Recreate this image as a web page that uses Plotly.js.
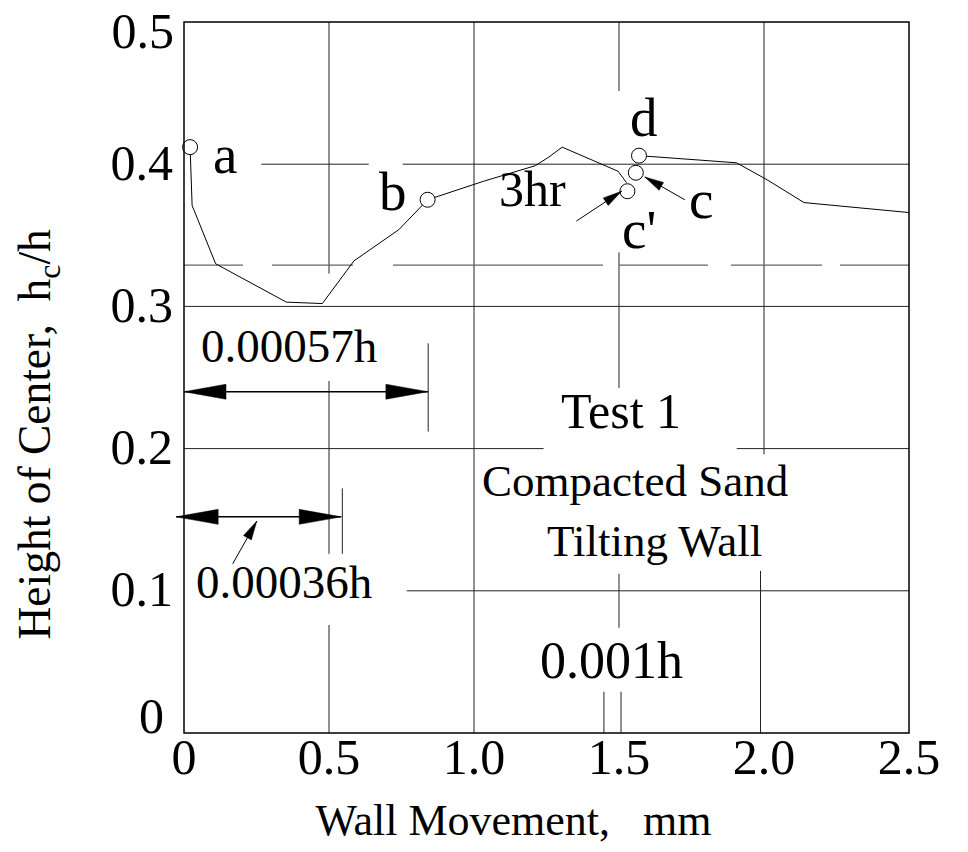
<!DOCTYPE html>
<html><head><meta charset="utf-8">
<script src="https://cdn.plot.ly/plotly-3.0.1.min.js"></script>
<style>html,body{margin:0;padding:0;background:#fff}</style>
</head><body>
<div id="chart" style="width:968px;height:852px"></div>
<script>
// ---------- data ----------
// main curve: a -> b -> peak -> c'
const curve1X = [0.021, 0.028, 0.109, 0.353, 0.477, 0.586, 0.741, 0.840, 1.033, 1.212, 1.258, 1.304, 1.497, 1.526];
const curve1Y = [0.412, 0.371, 0.330, 0.303, 0.302, 0.332, 0.354, 0.375, 0.388, 0.399, 0.405, 0.412, 0.395, 0.387];
// curve after d
const curve2X = [1.569, 1.905, 2.011, 2.080, 2.138, 2.500];
const curve2Y = [0.406, 0.401, 0.389, 0.380, 0.373, 0.366];
// labelled points a, b, c', c, d
const pointX = [0.021, 0.840, 1.529, 1.558, 1.569];
const pointY = [0.412, 0.375, 0.381, 0.394, 0.406];
const pointNames = ['a', 'b', "c'", 'c', 'd'];
// point label positions
const pointLabelX = [0.143, 0.720, 1.568, 1.784, 1.586];
const pointLabelY = [0.407, 0.381, 0.354, 0.375, 0.433];

// axis ticks
const xTickVals = [0, 0.5, 1.0, 1.5, 2.0, 2.5];
const xTickText = ['0', '0.5', '1.0', '1.5', '2.0', '2.5'];
const yTickVals = [0.1, 0.2, 0.3, 0.4];
const yTickText = ['0.1', '0.2', '0.3', '0.4'];
const yTopTickVals = [0.5];
const yTopTickText = ['0.5'];
const yBottomTickVals = [0];
const yBottomTickText = ['0'];

// broken grid lines (as drawn in the figure)
const vGridX  = [0.5, 0.5, 0.5, 1.0, 1.5, 1.5, 1.5, 2.0, 1.988];
const vGridY0 = [0.5, 0.2475, 0.076, 0.5, 0.5, 0.338, 0.112, 0.5, 0.114];
const vGridY1 = [0.323, 0.126, 0.0, 0.0, 0.4515, 0.2426, 0.074, 0.196, 0.0];
const hGridY  = [0.4, 0.4, 0.3, 0.2, 0.2, 0.1];
const hGridX0 = [0.267, 0.754, 0.0, 0.0, 1.906, 0.768];
const hGridX1 = [0.637, 2.5, 2.5, 1.24, 2.5, 2.5];
const dashedY = 0.329;

// dimension marks
const markTickX  = [0.842, 0.546, 1.448, 1.507];
const markTickY0 = [0.274, 0.172, 0.029, 0.029];
const markTickY1 = [0.212, 0.126, 0.0, 0.0];
const dimY  = [0.240, 0.152];
const dimX0 = [0.0, -0.027];
const dimX1 = [0.841, 0.542];
// pointer arrows (tail -> tip)
const ptrTailX = [0.168, 1.353, 1.727];
const ptrTailY = [0.119, 0.360, 0.375];
const ptrTipX  = [0.251, 1.509, 1.589];
const ptrTipY  = [0.149, 0.381, 0.391];

// free text labels
const noteText = ['0.00057h', '0.00036h', '3hr', 'Test 1', 'Compacted Sand', 'Tilting Wall', '0.001h'];
const noteX    = [0.361, 0.344, 1.2015, 1.508, 1.5545, 1.622, 1.4734];
const noteY    = [0.2723, 0.1059, 0.3827, 0.2262, 0.1774, 0.1352, 0.0512];
const noteSize = [47, 47, 50, 50, 45, 45, 52];

// ---------- chart ----------
const FONT = "'Liberation Serif', 'Times New Roman', Times, serif";
const xRange = [0, 2.5], yRange = [0, 0.5];
const M = {l: 184, r: 59, t: 22, b: 119};
const W = 968, H = 852;
const plotH = H - M.t - M.b;
const pxPerX = (W - M.l - M.r) / (xRange[1] - xRange[0]);
const pxPerY = plotH / (yRange[1] - yRange[0]);
const toPX = v => (v - xRange[0]) / (xRange[1] - xRange[0]);
const toPY = v => (v - yRange[0]) / (yRange[1] - yRange[0]);

const shapes = [];
// plot frame
shapes.push({type: 'rect', xref: 'paper', yref: 'paper', x0: 0, x1: 1, y0: 0, y1: 1, line: {color: 'black', width: 1.5}, fillcolor: 'rgba(0,0,0,0)'});
for (let i = 0; i < vGridX.length; i++) {
  shapes.push({type: 'line', xref: 'x', yref: 'y', x0: vGridX[i], x1: vGridX[i], y0: vGridY0[i], y1: vGridY1[i],
    line: {color: '#222', width: 1}, layer: 'below'});
}
for (let i = 0; i < hGridY.length; i++) {
  shapes.push({type: 'line', xref: 'x', yref: 'y', x0: hGridX0[i], x1: hGridX1[i], y0: hGridY[i], y1: hGridY[i],
    line: {color: '#222', width: 1}, layer: 'below'});
}
shapes.push({type: 'line', xref: 'x', yref: 'y', x0: xRange[0], x1: xRange[1], y0: dashedY, y1: dashedY,
  line: {color: '#666', width: 1.3, dash: '59px,29px,81px,40px,210px,16px,89px,23px,91px,18px,80px'}, layer: 'below'});
for (let i = 0; i < markTickX.length; i++) {
  shapes.push({type: 'line', xref: 'x', yref: 'y', x0: markTickX[i], x1: markTickX[i], y0: markTickY0[i], y1: markTickY1[i],
    line: {color: '#222', width: 1}});
}

function arrowHead(xTip, yTip, ux, uy, len, half) {
  // ux,uy: unit direction in pixels (y up), pointing toward tip
  const bx = -len * ux, by = -len * uy;
  const p1x = bx - half * uy, p1y = by + half * ux;
  const p2x = bx + half * uy, p2y = by - half * ux;
  return {type: 'path', xref: 'paper', yref: 'paper', xsizemode: 'pixel', ysizemode: 'pixel',
    xanchor: toPX(xTip), yanchor: toPY(yTip),
    path: `M0,0 L${p1x.toFixed(2)},${p1y.toFixed(2)} L${p2x.toFixed(2)},${p2y.toFixed(2)} Z`,
    fillcolor: 'black', line: {color: 'black', width: 0.5}};
}

for (let i = 0; i < dimY.length; i++) {
  shapes.push({type: 'line', xref: 'paper', yref: 'paper', x0: toPX(dimX0[i]), x1: toPX(dimX1[i]), y0: toPY(dimY[i]), y1: toPY(dimY[i]),
    line: {color: 'black', width: 1.5}});
  shapes.push(arrowHead(dimX0[i], dimY[i], -1, 0, 42, 7.5));
  shapes.push(arrowHead(dimX1[i], dimY[i], 1, 0, 42, 7.5));
}
for (let i = 0; i < ptrTailX.length; i++) {
  shapes.push({type: 'line', xref: 'paper', yref: 'paper', x0: toPX(ptrTailX[i]), x1: toPX(ptrTipX[i]), y0: toPY(ptrTailY[i]), y1: toPY(ptrTipY[i]),
    line: {color: 'black', width: 1}});
  let dx = (ptrTipX[i] - ptrTailX[i]) * pxPerX, dy = (ptrTipY[i] - ptrTailY[i]) * pxPerY;
  const n = Math.hypot(dx, dy);
  shapes.push(arrowHead(ptrTipX[i], ptrTipY[i], dx / n, dy / n, 19, 4.5));
}

const annotations = [];
for (let i = 0; i < pointNames.length; i++) {
  annotations.push({x: pointLabelX[i], y: pointLabelY[i], xref: 'x', yref: 'y', text: pointNames[i], showarrow: false,
    xanchor: 'center', yanchor: 'middle', font: {family: FONT, size: 55, color: 'black'}});
}
for (let i = 0; i < noteText.length; i++) {
  annotations.push({x: noteX[i], y: noteY[i], xref: 'x', yref: 'y', text: noteText[i], showarrow: false,
    xanchor: 'center', yanchor: 'middle', font: {family: FONT, size: noteSize[i], color: 'black'}});
}

const traces = [
  {x: curve1X, y: curve1Y, type: 'scatter', mode: 'lines', line: {color: 'black', width: 1}, hoverinfo: 'skip'},
  {x: curve2X, y: curve2Y, type: 'scatter', mode: 'lines', line: {color: 'black', width: 1}, hoverinfo: 'skip'},
  {x: pointX, y: pointY, text: pointNames, type: 'scatter', mode: 'markers', cliponaxis: false,
   marker: {symbol: 'circle', size: 15, color: 'white', line: {color: 'black', width: 1}}},
  {x: [], y: [], type: 'scatter', mode: 'markers', yaxis: 'y2', hoverinfo: 'skip'},
  {x: [], y: [], type: 'scatter', mode: 'markers', yaxis: 'y3', hoverinfo: 'skip'}
];

const NB = '\u00a0', ZW = '\u200b';
const yCommon = {range: yRange, tickmode: 'array', showgrid: false, zeroline: false, showline: false, ticks: '',
  tickfont: {family: FONT, size: 50}, ticklabeloverflow: 'allow', fixedrange: true};
const layout = {
  width: W, height: H, margin: {l: M.l, r: M.r, t: M.t, b: M.b, pad: 0},
  paper_bgcolor: 'white', plot_bgcolor: 'white', showlegend: false,
  font: {family: FONT, color: 'black'},
  xaxis: {range: xRange, tickmode: 'array', tickvals: xTickVals, ticktext: xTickText, showgrid: false, zeroline: false,
    showline: false, ticks: '', tickfont: {family: FONT, size: 50}, ticklabeloverflow: 'allow',
    anchor: 'free', position: 10 / plotH,
    title: {text: 'Wall Movement,' + NB.repeat(3) + 'mm' + NB.repeat(6) + ZW, font: {family: FONT, size: 44}, standoff: 20}, fixedrange: true},
  yaxis: Object.assign({}, yCommon, {tickvals: yTickVals, ticktext: yTickText, ticklabelstandoff: 10, ticklabelshift: -2,
    title: {text: 'Height of Center,' + NB.repeat(2) + 'h<sub>c</sub>/h' + NB.repeat(10) + ZW, font: {family: FONT, size: 45.5}, standoff: 45}}),
  yaxis2: Object.assign({}, yCommon, {overlaying: 'y', anchor: 'x', side: 'left', tickvals: yTopTickVals, ticktext: yTopTickText,
    ticklabelstandoff: 9, ticklabelshift: 8}),
  yaxis3: Object.assign({}, yCommon, {overlaying: 'y', anchor: 'x', side: 'left', tickvals: yBottomTickVals, ticktext: yBottomTickText,
    ticklabelstandoff: 19, ticklabelshift: -18}),
  shapes: shapes, annotations: annotations
};

Plotly.newPlot('chart', traces, layout, {staticPlot: true, displayModeBar: false});
</script>
</body></html>
